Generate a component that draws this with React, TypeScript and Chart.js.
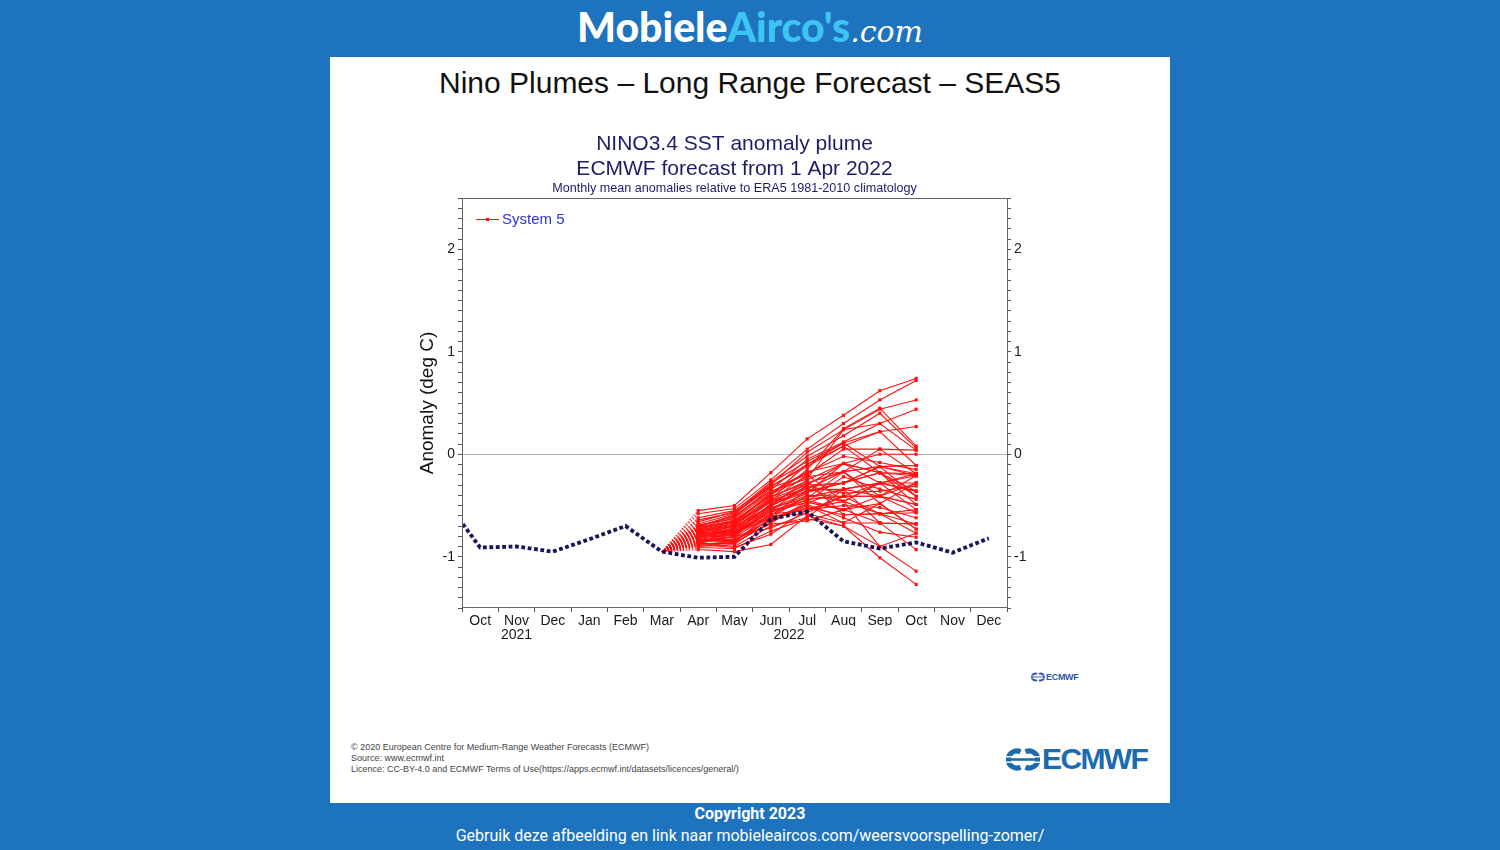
import React, { useEffect, useRef } from 'react';
import { Chart, registerables } from 'chart.js';

Chart.register(...registerables);

// ---------- data ----------
const monthLabels = ['Oct', 'Nov', 'Dec', 'Jan', 'Feb', 'Mar', 'Apr', 'May', 'Jun', 'Jul', 'Aug', 'Sep', 'Oct', 'Nov', 'Dec'];
const yearLabels = ['2021', '2022'];
const yearPositions = [1, 8.5];

// observed / reference dotted line, Sep 2021 (index -1) .. Dec 2022 (index 14)
const observedStartIndex = -1;
const observedValues = [-0.43, -0.91, -0.90, -0.95, -0.83, -0.70, -0.95, -1.01, -1.00, -0.63, -0.56, -0.85, -0.92, -0.86, -0.96, -0.82];

// forecast: starts from Mar 2022 (index 5) value, members for Apr..Oct 2022 (index 6..12)
const forecastStartIndex = 5;
const forecastStartValue = -0.95;
const forecastIndices = [6, 7, 8, 9, 10, 11, 12];
const systemMembers: number[][] = [
  [-0.55, -0.50, -0.18, 0.15, 0.38, 0.62, 0.74],
  [-0.58, -0.53, -0.25, 0.05, 0.30, 0.53, 0.72],
  [-0.62, -0.55, -0.30, 0.02, 0.24, 0.44, 0.53],
  [-0.70, -0.60, -0.35, -0.05, 0.12, 0.30, 0.44],
  [-0.72, -0.65, -0.40, -0.10, 0.08, 0.22, 0.27],
  [-0.75, -0.70, -0.43, -0.15, 0.25, 0.45, 0.08],
  [-0.78, -0.72, -0.45, -0.20, 0.05, 0.05, 0.04],
  [-0.80, -0.75, -0.50, -0.25, -0.09, 0.00, 0.00],
  [-0.82, -0.78, -0.48, -0.28, -0.17, -0.12, -0.11],
  [-0.85, -0.80, -0.55, -0.30, -0.28, -0.18, -0.19],
  [-0.88, -0.85, -0.60, -0.35, -0.34, -0.28, -0.21],
  [-0.90, -0.88, -0.62, -0.40, -0.41, -0.41, -0.28],
  [-0.93, -0.95, -0.88, -0.60, -0.70, -1.01, -1.27],
  [-0.72, -0.62, -0.33, -0.20, -0.46, -0.90, -1.14],
  [-0.76, -0.78, -0.55, -0.45, -0.54, -0.67, -0.93],
  [-0.74, -0.68, -0.42, -0.26, -0.59, -0.58, -0.77],
  [-0.79, -0.82, -0.65, -0.50, -0.67, -0.48, -0.73],
  [-0.81, -0.74, -0.58, -0.55, -0.41, -0.58, -0.68],
  [-0.86, -0.90, -0.70, -0.62, -0.34, -0.41, -0.57],
  [-0.69, -0.63, -0.37, -0.17, -0.09, -0.28, -0.54],
  [-0.73, -0.66, -0.47, -0.36, -0.28, -0.18, -0.49],
  [-0.77, -0.70, -0.52, -0.43, -0.17, -0.12, -0.41],
  [-0.80, -0.76, -0.62, -0.53, -0.46, -0.28, -0.36],
  [-0.84, -0.83, -0.68, -0.65, -0.54, -0.48, -0.28],
  [-0.87, -0.80, -0.72, -0.57, -0.41, -0.41, -0.21],
  [-0.71, -0.59, -0.28, -0.07, 0.11, 0.22, -0.11],
  [-0.74, -0.67, -0.39, -0.22, -0.17, 0.05, -0.19],
  [-0.78, -0.73, -0.46, -0.32, -0.28, -0.12, -0.21],
  [-0.83, -0.79, -0.53, -0.38, -0.09, -0.18, -0.36],
  [-0.89, -0.86, -0.57, -0.42, -0.34, -0.67, -0.68],
  [-0.64, -0.57, -0.31, -0.12, 0.08, -0.18, -0.41],
  [-0.76, -0.71, -0.50, -0.33, -0.46, -0.28, -0.19],
  [-0.81, -0.77, -0.56, -0.47, -0.54, -0.41, -0.49],
  [-0.85, -0.84, -0.64, -0.52, -0.59, -0.58, -0.57],
  [-0.91, -0.92, -0.75, -0.63, -0.70, -0.90, -0.77],
  [-0.73, -0.64, -0.41, -0.28, -0.17, -0.48, -0.73],
  [-0.79, -0.74, -0.49, -0.37, -0.28, -0.12, -0.11],
  [-0.84, -0.81, -0.59, -0.44, -0.41, -0.28, -0.28],
  [-0.70, -0.61, -0.36, -0.24, 0.24, 0.30, 0.04],
  [-0.75, -0.69, -0.44, -0.30, -0.09, -0.18, -0.21],
  [-0.82, -0.72, -0.54, -0.40, -0.46, -0.58, -0.54],
  [-0.87, -0.87, -0.66, -0.48, -0.34, -0.28, -0.36],
  [-0.77, -0.75, -0.60, -0.58, -0.67, -0.67, -0.68],
  [-0.80, -0.69, -0.45, -0.34, -0.17, -0.41, -0.49],
  [-0.68, -0.58, -0.32, -0.10, 0.11, -0.12, -0.19],
  [-0.66, -0.56, -0.27, -0.02, 0.18, 0.40, 0.06],
  [-0.83, -0.86, -0.67, -0.46, -0.22, -0.34, -0.44],
  [-0.88, -0.91, -0.78, -0.54, -0.50, -0.52, -0.62],
  [-0.71, -0.66, -0.38, -0.18, -0.02, -0.08, -0.15],
  [-0.79, -0.79, -0.51, -0.31, -0.38, -0.36, -0.31],
  [-0.86, -0.76, -0.63, -0.49, -0.62, -0.76, -0.81],
];

const legendLabel = 'System 5';
const chartTitle = ['NINO3.4 SST anomaly plume', 'ECMWF forecast from 1 Apr 2022'];
const chartSubtitle = 'Monthly mean anomalies relative to ERA5 1981-2010 climatology';
const yAxisTitle = 'Anomaly (deg C)';
const yMin = -1.5;
const yMax = 2.5;

// ---------- styling ----------
const FONT = "'Liberation Sans', Arial, Helvetica, sans-serif";
const RED = '#ff1010';
const NAVY = '#15155c';

const yTickValues = (() => {
  const arr: number[] = [];
  for (let i = Math.round(yMin * 10); i <= Math.round(yMax * 10); i++) arr.push(i / 10);
  return arr;
})();

const yLabel = (value: number | string) => {
  const r = Math.round(Number(value) * 10);
  return r % 10 === 0 ? String(r / 10) : '';
};

const legendPlugin = {
  id: 'plumeLegend',
  afterDraw(chart: any) {
    const { ctx, chartArea } = chart;
    ctx.save();
    // frame
    ctx.strokeStyle = '#666666';
    ctx.lineWidth = 1;
    ctx.strokeRect(chartArea.left + 0.5, chartArea.top + 0.5, chartArea.width, chartArea.height - 1);
    // legend
    const x0 = chartArea.left + 14;
    const y = chartArea.top + 21;
    ctx.strokeStyle = RED;
    ctx.beginPath();
    ctx.moveTo(x0, y + 0.5);
    ctx.lineTo(x0 + 23, y + 0.5);
    ctx.stroke();
    ctx.fillStyle = RED;
    ctx.fillRect(x0 + 10, y - 1, 3, 3);
    ctx.fillStyle = '#3030e0';
    ctx.font = `15px ${FONT}`;
    ctx.textBaseline = 'middle';
    ctx.textAlign = 'left';
    ctx.fillText(legendLabel, x0 + 26, y + 1);
    ctx.restore();
  },
};

function PlumeChart() {
  const ref = useRef<HTMLCanvasElement | null>(null);
  useEffect(() => {
    if (!ref.current) return;
    const observedData = observedValues.map((v, i) => ({ x: observedStartIndex + i, y: v }));
    const memberSets = systemMembers.map((m) => ({
      label: legendLabel,
      data: [{ x: forecastStartIndex, y: forecastStartValue }, ...m.map((v, i) => ({ x: forecastIndices[i], y: v }))],
      borderColor: RED,
      backgroundColor: RED,
      borderWidth: 1.1,
      pointStyle: 'rect',
      pointRadius: (c: any) => (c.dataIndex === 0 ? 0 : 2.2),
      pointBorderWidth: 0,
      pointBackgroundColor: RED,
      tension: 0,
      segment: {
        borderDash: (c: any) => (c.p0DataIndex === 0 ? [1.5, 1.5] : undefined),
      },
    }));
    const chart = new Chart(ref.current, {
      type: 'line',
      data: {
        datasets: [
          {
            label: 'observed',
            data: observedData,
            borderColor: NAVY,
            borderWidth: 3.8,
            borderDash: [3.8, 2.6],
            borderCapStyle: 'butt',
            pointRadius: 0,
            tension: 0,
          } as any,
          ...memberSets,
        ],
      },
      options: {
        responsive: false,
        animation: false,
        events: [],
        layout: { padding: { left: 0, right: 0, top: 0, bottom: 7 } },
        plugins: {
          legend: { display: false },
          tooltip: { enabled: false },
          title: {
            display: true,
            text: chartTitle,
            fullSize: false,
            color: '#1c1c6a',
            font: { family: FONT, size: 21, weight: 'normal', lineHeight: '25px' },
            padding: { top: 11.5, bottom: 0 },
          },
          subtitle: {
            display: true,
            text: chartSubtitle,
            fullSize: false,
            color: '#1c1c6a',
            font: { family: FONT, size: 12.6, lineHeight: '14px' },
            padding: { top: 0, bottom: 2.5 },
          },
        },
        scales: {
          x: {
            type: 'linear',
            position: 'bottom',
            min: -0.5,
            max: 14.5,
            weight: 0,
            afterBuildTicks: (s: any) => {
              s.ticks = monthLabels.map((_, i) => ({ value: i }));
            },
            afterFit: (s: any) => {
              s.height = 18;
            },
            border: { display: false },
            grid: { offset: true, drawOnChartArea: false, color: 'rgba(0,0,0,0)', tickColor: '#555', tickLength: 4 },
            ticks: {
              autoSkip: false,
              maxRotation: 0,
              padding: 1,
              color: '#1a1a1a',
              font: { family: FONT, size: 14 },
              callback: (v: any) => monthLabels[Math.round(Number(v))] ?? '',
            },
          },
          xYear: {
            type: 'linear',
            position: 'bottom',
            min: -0.5,
            max: 14.5,
            weight: 1,
            afterBuildTicks: (s: any) => {
              s.ticks = yearPositions.map((p) => ({ value: p }));
            },
            afterFit: (s: any) => {
              s.height = 17;
            },
            border: { display: false },
            grid: { display: false, drawTicks: false },
            ticks: {
              autoSkip: false,
              maxRotation: 0,
              padding: 1,
              color: '#1a1a1a',
              font: { family: FONT, size: 14 },
              callback: (v: any) => {
                const idx = yearPositions.indexOf(Number(v));
                return idx >= 0 ? yearLabels[idx] : '';
              },
            },
          },
          y: {
            type: 'linear',
            position: 'left',
            min: yMin,
            max: yMax,
            afterBuildTicks: (s: any) => {
              s.ticks = yTickValues.map((v) => ({ value: v }));
            },
            afterFit: (s: any) => {
              s.width = 62;
            },
            border: { display: false },
            grid: {
              color: (c: any) => (c.tick && Math.abs(c.tick.value) < 1e-9 ? '#b4b4b4' : 'rgba(0,0,0,0)'),
              tickColor: '#555',
              tickLength: 4,
            },
            title: {
              display: true,
              text: yAxisTitle,
              color: '#111',
              font: { family: FONT, size: 19 },
              padding: { top: 16.5, bottom: 0 },
            },
            ticks: {
              autoSkip: false,
              padding: 3,
              color: '#1a1a1a',
              font: { family: FONT, size: 14 },
              callback: (v: any) => yLabel(v),
            },
          },
          y2: {
            type: 'linear',
            position: 'right',
            display: true,
            min: yMin,
            max: yMax,
            afterBuildTicks: (s: any) => {
              s.ticks = yTickValues.map((v) => ({ value: v }));
            },
            afterFit: (s: any) => {
              s.width = 53;
            },
            border: { display: false },
            grid: { drawOnChartArea: false, color: 'rgba(0,0,0,0)', tickColor: '#555', tickLength: 4 },
            ticks: {
              autoSkip: false,
              padding: 3,
              color: '#1a1a1a',
              font: { family: FONT, size: 14 },
              callback: (v: any) => yLabel(v),
            },
          },
        },
      } as any,
      plugins: [legendPlugin],
    });
    return () => chart.destroy();
  }, []);
  return (
    <canvas
      ref={ref}
      width={660}
      height={530}
      style={{ position: 'absolute', left: 400, top: 120, width: 660, height: 530 }}
    />
  );
}

function EcmwfIcon({ w, h, color }: { w: number; h: number; color: string }) {
  return (
    <svg width={w} height={h} viewBox="0 0 40 26" style={{ display: 'block' }}>
      <path d="M17 4 A10 10 0 1 0 17 22" fill="none" stroke={color} strokeWidth="6" />
      <path d="M23 4 A10 10 0 1 1 23 22" fill="none" stroke={color} strokeWidth="6" />
      <rect x="4" y="11.5" width="32" height="3" fill={color} />
      <rect x="0" y="9" width="40" height="1.6" fill="#fff" />
      <rect x="0" y="15.4" width="40" height="1.6" fill="#fff" />
    </svg>
  );
}

export default function App() {
  return (
    <div
      style={{
        position: 'fixed',
        left: 0,
        top: 0,
        width: 1500,
        height: 850,
        background: '#1e73be',
        overflow: 'hidden',
        fontFamily: FONT,
      }}
    >
      {/* site header */}
      <div
        style={{
          position: 'absolute',
          left: 0,
          top: 6,
          width: 1500,
          textAlign: 'center',
          fontFamily: 'Lato, "Open Sans", sans-serif',
          fontWeight: 900,
          fontSize: 41,
          lineHeight: '42px',
          color: '#ffffff',
          whiteSpace: 'nowrap',
        }}
      >
        <span>Mobiele</span>
        <span style={{ color: '#3ec4f2' }}>Airco's</span>
        <span style={{ fontFamily: '"DejaVu Serif", serif', fontStyle: 'italic', fontWeight: 400, fontSize: 30 }}>.com</span>
      </div>

      {/* white panel */}
      <div style={{ position: 'absolute', left: 330, top: 57, width: 840, height: 746, background: '#ffffff' }} />

      <div
        style={{
          position: 'absolute',
          left: 330,
          top: 67,
          width: 840,
          textAlign: 'center',
          fontSize: 30,
          lineHeight: '31px',
          color: '#111',
          whiteSpace: 'nowrap',
        }}
      >
        Nino Plumes – Long Range Forecast – SEAS5
      </div>

      <PlumeChart />

      {/* small ECMWF mark */}
      <div style={{ position: 'absolute', left: 1031, top: 672, display: 'flex', alignItems: 'center', gap: 1 }}>
        <EcmwfIcon w={14} h={10} color="#2f55a8" />
        <span style={{ fontSize: 9, fontWeight: 700, color: '#2f55a8', letterSpacing: -0.3 }}>ECMWF</span>
      </div>

      {/* footer credits */}
      <div style={{ position: 'absolute', left: 351, top: 742, fontSize: 9, lineHeight: '11px', color: '#444', whiteSpace: 'nowrap' }}>
        <div>© 2020 European Centre for Medium-Range Weather Forecasts (ECMWF)</div>
        <div>Source: www.ecmwf.int</div>
        <div>Licence: CC-BY-4.0 and ECMWF Terms of Use(https://apps.ecmwf.int/datasets/licences/general/)</div>
      </div>

      {/* big ECMWF logo */}
      <div style={{ position: 'absolute', left: 1006, top: 745, display: 'flex', alignItems: 'center', gap: 2 }}>
        <EcmwfIcon w={34} h={25} color="#1a6bb0" />
        <span style={{ fontSize: 30, lineHeight: '28px', fontWeight: 700, color: '#1a6bb0', letterSpacing: -1.6 }}>ECMWF</span>
      </div>

      {/* copyright */}
      <div
        style={{
          position: 'absolute',
          left: 0,
          top: 803,
          width: 1500,
          textAlign: 'center',
          fontFamily: 'Roboto, sans-serif',
          color: '#ffffff',
          fontSize: 16,
          lineHeight: '22px',
        }}
      >
        <div style={{ fontWeight: 700 }}>Copyright 2023</div>
        <div>Gebruik deze afbeelding en link naar mobieleaircos.com/weersvoorspelling-zomer/</div>
      </div>
    </div>
  );
}
